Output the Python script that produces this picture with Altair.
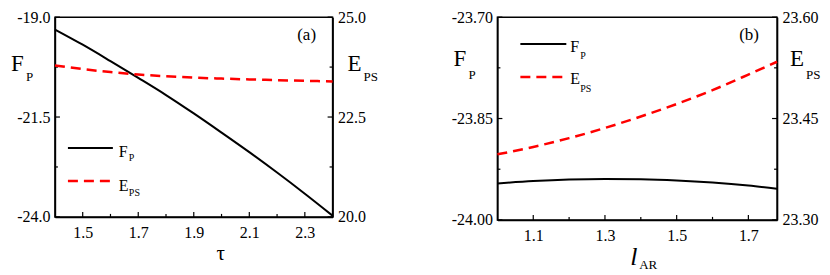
import altair as alt
import pandas as pd

# ---------------- data ----------------
tau = [1.4, 1.5, 1.6, 1.7, 1.8, 1.9, 2.0, 2.1, 2.2, 2.3, 2.4]
fp_a = [-19.31, -19.69, -20.10, -20.52, -20.95, -21.41, -21.89, -22.38, -22.89, -23.42, -23.97]
eps_a = [23.79, 23.70, 23.625, 23.565, 23.52, 23.487, 23.462, 23.442, 23.424, 23.407, 23.39]

lar = [1.0, 1.1, 1.2, 1.3, 1.4, 1.5, 1.6, 1.7, 1.78]
fp_b = [-23.946, -23.9425, -23.9402, -23.9393, -23.9398, -23.9416, -23.9447, -23.9492, -23.9540]
eps_b = [23.397, 23.408, 23.421, 23.436, 23.453, 23.4715, 23.492, 23.515, 23.534]

# axis ticks
xa_major = [1.5, 1.7, 1.9, 2.1, 2.3]
xa_minor = [1.6, 1.8, 2.0, 2.2]
fa_major = [-19.0, -21.5, -24.0]
fa_minor = [-20.25, -22.75]
ea_major = [20.0, 22.5, 25.0]
ea_minor = [21.25, 23.75]

xb_major = [1.1, 1.3, 1.5, 1.7]
xb_minor = [1.2, 1.4, 1.6]
fb_major = [-23.70, -23.85, -24.00]
fb_minor = [-23.775, -23.925]
eb_major = [23.30, 23.45, 23.60]
eb_minor = [23.375, 23.525]

SERIF = "Liberation Serif"
RED = "#ff0000"
HYPHEN = "replace(datum.label, '\u2212', '-')"
DY = -4


def txt(s, x, y, size, italic=False, align="left"):
    return alt.Chart(pd.DataFrame({"t": [s]})).mark_text(
        font=SERIF, fontSize=size, color="black", align=align, baseline="alphabetic",
        fontStyle="italic" if italic else "normal"
    ).encode(x=alt.value(x), y=alt.value(y + DY), text="t:N")


def panel(xv, fv, ev, xdom, fdom, edom, xmaj, xmin, fmaj, fmin, emaj, emin,
          W, H, ffmt, efmt, lab, xtitle, leg, ylab):
    df = pd.DataFrame({"x": xv, "f": fv, "e": ev})
    xs = alt.Scale(domain=xdom, nice=False, zero=False)
    fs = alt.Scale(domain=fdom, nice=False, zero=False)
    es = alt.Scale(domain=edom, nice=False, zero=False)
    xaxis = alt.Axis(values=xmaj, format=".1f", title=None, ticks=False, labelPadding=8,
                     labelExpr=HYPHEN)
    faxis = alt.Axis(values=fmaj, format=ffmt, title=None, ticks=False, orient="left",
                     labelPadding=5, labelExpr=HYPHEN)
    eaxis = alt.Axis(values=emaj, format=efmt, title=None, ticks=False, orient="right",
                     labelPadding=5, labelExpr=HYPHEN)

    base = alt.Chart(df)
    fline = base.mark_line(color="black", strokeWidth=2, interpolate="monotone").encode(
        x=alt.X("x:Q", scale=xs, axis=xaxis),
        y=alt.Y("f:Q", scale=fs, axis=faxis),
    )
    eline = base.mark_line(color=RED, strokeWidth=2.5, strokeDash=[10, 6],
                           interpolate="monotone").encode(
        x=alt.X("x:Q", scale=xs, axis=xaxis),
        y=alt.Y("e:Q", scale=es, axis=eaxis),
    )

    def yticks(vals, scale, axis, field, right, length):
        d = pd.DataFrame({field: vals})
        if right:
            xx, xx2 = alt.value(W), alt.value(W - length)
        else:
            xx, xx2 = alt.value(0), alt.value(length)
        return alt.Chart(d).mark_rule(color="black", strokeWidth=1.2).encode(
            y=alt.Y(f"{field}:Q", scale=scale, axis=axis), x=xx, x2=xx2)

    def xticks(vals, length):
        d = pd.DataFrame({"x": vals})
        return alt.Chart(d).mark_rule(color="black", strokeWidth=1.2).encode(
            x=alt.X("x:Q", scale=xs, axis=xaxis), y=alt.value(H), y2=alt.value(H - length))

    (lx1, lx2, ly1, ly2, tx, fy, py, ey, psy) = leg
    legend = [
        alt.Chart(pd.DataFrame({"a": [0]})).mark_rule(color="black", strokeWidth=2).encode(
            x=alt.value(lx1), x2=alt.value(lx2), y=alt.value(ly1 + DY)),
        alt.Chart(pd.DataFrame({"a": [0]})).mark_rule(color=RED, strokeWidth=2.5,
                                                      strokeDash=[10, 6]).encode(
            x=alt.value(lx1), x2=alt.value(lx2), y=alt.value(ly2 + DY)),
        txt("F", tx, fy, 16),
        txt("P", tx + 10, py, 10),
        txt("E", tx, ey, 16),
        txt("PS", tx + 10, psy, 10),
    ]

    (fx, fby, pby, ex, eby, psby) = ylab
    texts = [
        txt(lab, 252, 27, 17, align="center"),
        txt("F", fx, fby, 23),
        txt("P", fx + 15, pby, 13),
        txt("E", W + ex, eby, 23),
        txt("PS", W + ex + 16, psby, 13),
    ] + xtitle + legend

    fgroup = alt.layer(
        fline,
        yticks(fmaj, fs, faxis, "f", False, 5),
        yticks(fmin, fs, faxis, "f", False, 3),
        xticks(xmaj, 5),
        xticks(xmin, 3),
        *texts,
    )
    egroup = alt.layer(
        eline,
        yticks(emaj, es, eaxis, "e", True, 5),
        yticks(emin, es, eaxis, "e", True, 3),
    )

    return alt.layer(fgroup, egroup).resolve_scale(y="independent").properties(
        width=W, height=H)


WA, HA = 278, 200
WB, HB = 280, 203

pa = panel(tau, fp_a, eps_a, [1.4, 2.4], [-24.0, -19.0], [20.0, 25.0],
           xa_major, xa_minor, fa_major, fa_minor, ea_major, ea_minor,
           WA, HA, ".1f", ".1f", "(a)",
           [txt("τ", 166, 247, 21, align="center")],
           (13, 58, 135, 168, 64, 144, 148, 178, 183),
           (-44, 58, 68, 15, 58, 68))

pb = panel(lar, fp_b, eps_b, [1.0, 1.78], [-24.0, -23.7], [23.3, 23.6],
           xb_major, xb_minor, fb_major, fb_minor, eb_major, eb_minor,
           WB, HB, ".2f", ".2f", "(b)",
           [txt("l", 133, 252, 26, italic=True), txt("AR", 142, 256, 13)],
           (23, 69, 31, 64, 73, 39, 46, 71, 79),
           (-44, 53, 66, 13, 53, 66))

chart = alt.hconcat(pa, pb, spacing=70).properties(
    padding={"left": 2, "top": 0, "right": 0, "bottom": 0}
).configure_view(
    stroke="black", strokeWidth=1.5
).configure_axis(
    domainColor="black", domainWidth=1.5, grid=False,
    labelFont=SERIF, labelFontSize=16, labelColor="black"
)

chart.save("out.html", embed_options={"renderer": "svg", "actions": False})
